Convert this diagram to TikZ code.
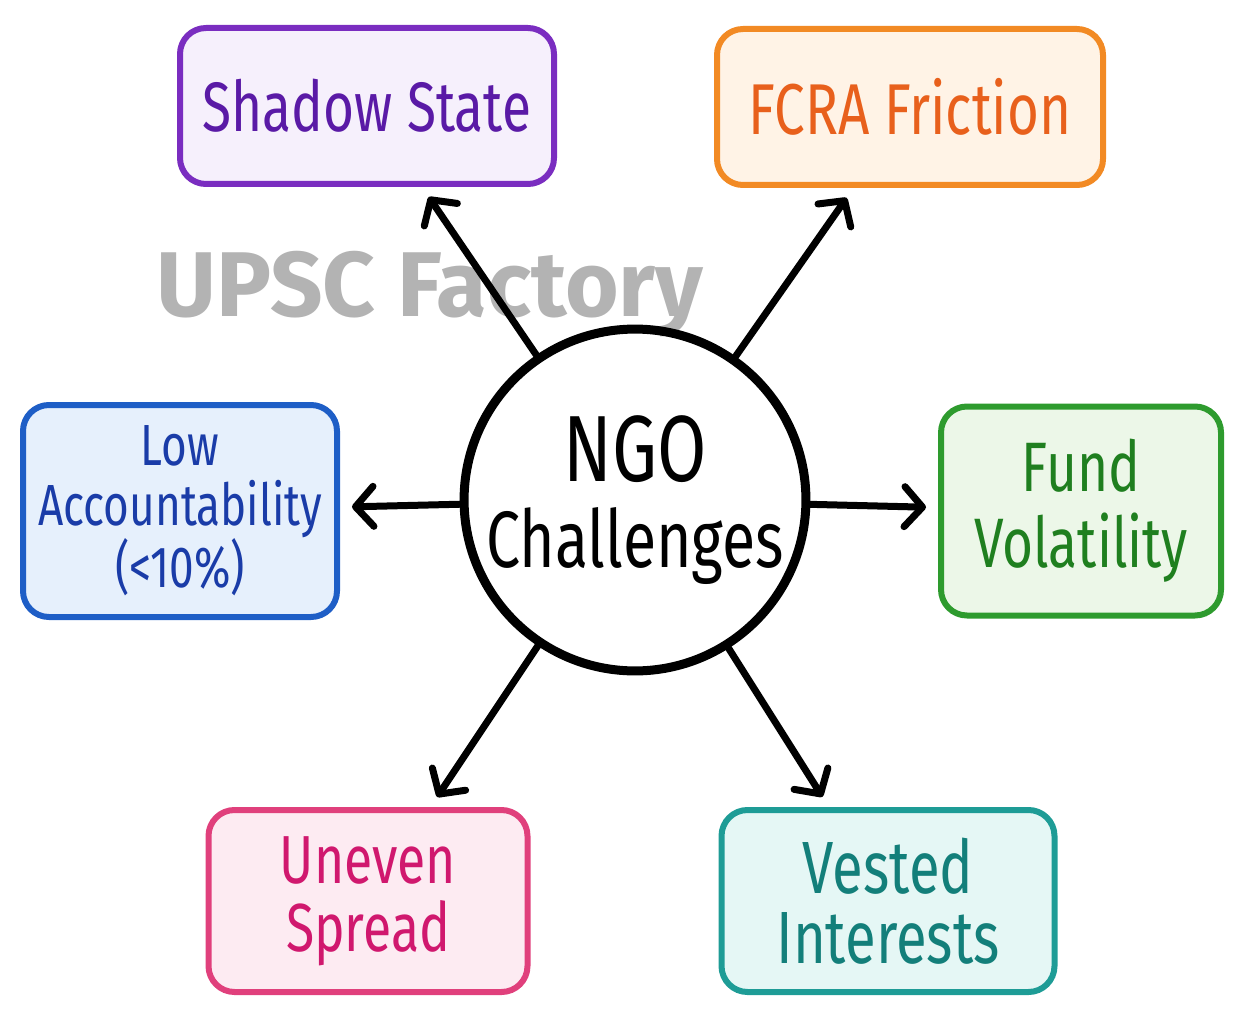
\documentclass[tikz,border=0pt]{standalone}
\usepackage{fontspec}
\setmainfont{Fira Sans}[FakeStretch=0.76]
\newfontfamily\markfont{Fira Sans}
\usetikzlibrary{arrows.meta}
\definecolor{Mark Gray}{HTML}{B3B3B3}
\definecolor{Purple Line}{HTML}{7A2DC0}
\definecolor{Purple Fill}{HTML}{F6F0FC}
\definecolor{Purple Ink}{HTML}{5A1AA6}
\definecolor{Orange Line}{HTML}{F28A24}
\definecolor{Orange Fill}{HTML}{FFF3E6}
\definecolor{Orange Ink}{HTML}{E8601C}
\definecolor{Blue Line}{HTML}{1E5EC6}
\definecolor{Blue Fill}{HTML}{E6F0FC}
\definecolor{Blue Ink}{HTML}{1A3CA8}
\definecolor{Green Line}{HTML}{2E9B2E}
\definecolor{Green Fill}{HTML}{ECF7E8}
\definecolor{Green Ink}{HTML}{1F7F1F}
\definecolor{Pink Line}{HTML}{E0407C}
\definecolor{Pink Fill}{HTML}{FDEBF2}
\definecolor{Pink Ink}{HTML}{D0186E}
\definecolor{Teal Line}{HTML}{1E9C96}
\definecolor{Teal Fill}{HTML}{E5F7F5}
\definecolor{Teal Ink}{HTML}{137F7A}

\begin{document}
\begin{tikzpicture}[x=1pt, y=-1pt]
  \tikzstyle{issue}=[rectangle, rounded corners=26pt, line width=6pt, align=center, inner sep=0pt]
  \tikzstyle{hub}=[circle, draw=black, line width=9pt, minimum size=334pt, inner sep=0pt, align=center]
  \tikzstyle{spoke}=[black, line width=7pt, line cap=round, shorten >=12pt, -{Straight Barb[round,length=18pt,width=40pt]}]
  \tikzstyle{watermark}=[text=Mark Gray, font=\markfont\bfseries\fontsize{92}{92}\selectfont]
  \tikzset{tint/.style n args={3}{draw=#1, fill=#2, text=#3}}

  \useasboundingbox (0,0) rectangle (1252,1019); % keep the frame of the reference

  % Watermark goes first, the arrows cross it
  \node[watermark, anchor=base] (mark) at (430,316) {UPSC Factory};

  % Draw the centre node
  \node[hub, font=\fontsize{80}{86}\selectfont] (hub) at (635,500)
      {{\fontsize{94}{86}\selectfont NGO}\\Challenges};

  % Draw the challenge boxes
  \node[issue, tint={Purple Line}{Purple Fill}{Purple Ink}, minimum width=374pt, minimum height=156pt,
        font=\fontsize{70}{76}\selectfont] (shadow) at (367,106) {Shadow State};
  \node[issue, tint={Orange Line}{Orange Fill}{Orange Ink}, minimum width=386pt, minimum height=156pt,
        font=\fontsize{72}{76}\selectfont] (fcra) at (910,107) {FCRA Friction};
  \node[issue, tint={Blue Line}{Blue Fill}{Blue Ink}, minimum width=314pt, minimum height=212pt,
        font=\fontsize{58}{60}\selectfont] (low) at (180,511) {Low\\Accountability\\(<10\%)};
  \node[issue, tint={Green Line}{Green Fill}{Green Ink}, minimum width=280pt, minimum height=209pt,
        font=\fontsize{70}{76}\selectfont] (fund) at (1081,511) {Fund\\Volatility};
  \node[issue, tint={Pink Line}{Pink Fill}{Pink Ink}, minimum width=319pt, minimum height=182pt,
        font=\fontsize{68}{68}\selectfont] (uneven) at (368,901) {Uneven\\Spread};
  \node[issue, tint={Teal Line}{Teal Fill}{Teal Ink}, minimum width=333pt, minimum height=182pt,
        font=\fontsize{74}{70}\selectfont] (vested) at (888,901) {Vested\\Interests};

  % Connect the centre with every box
  \foreach \dest in {shadow,fcra,low,fund,uneven,vested}
      \draw[spoke] (hub) -- (\dest);

\end{tikzpicture}
\end{document}
